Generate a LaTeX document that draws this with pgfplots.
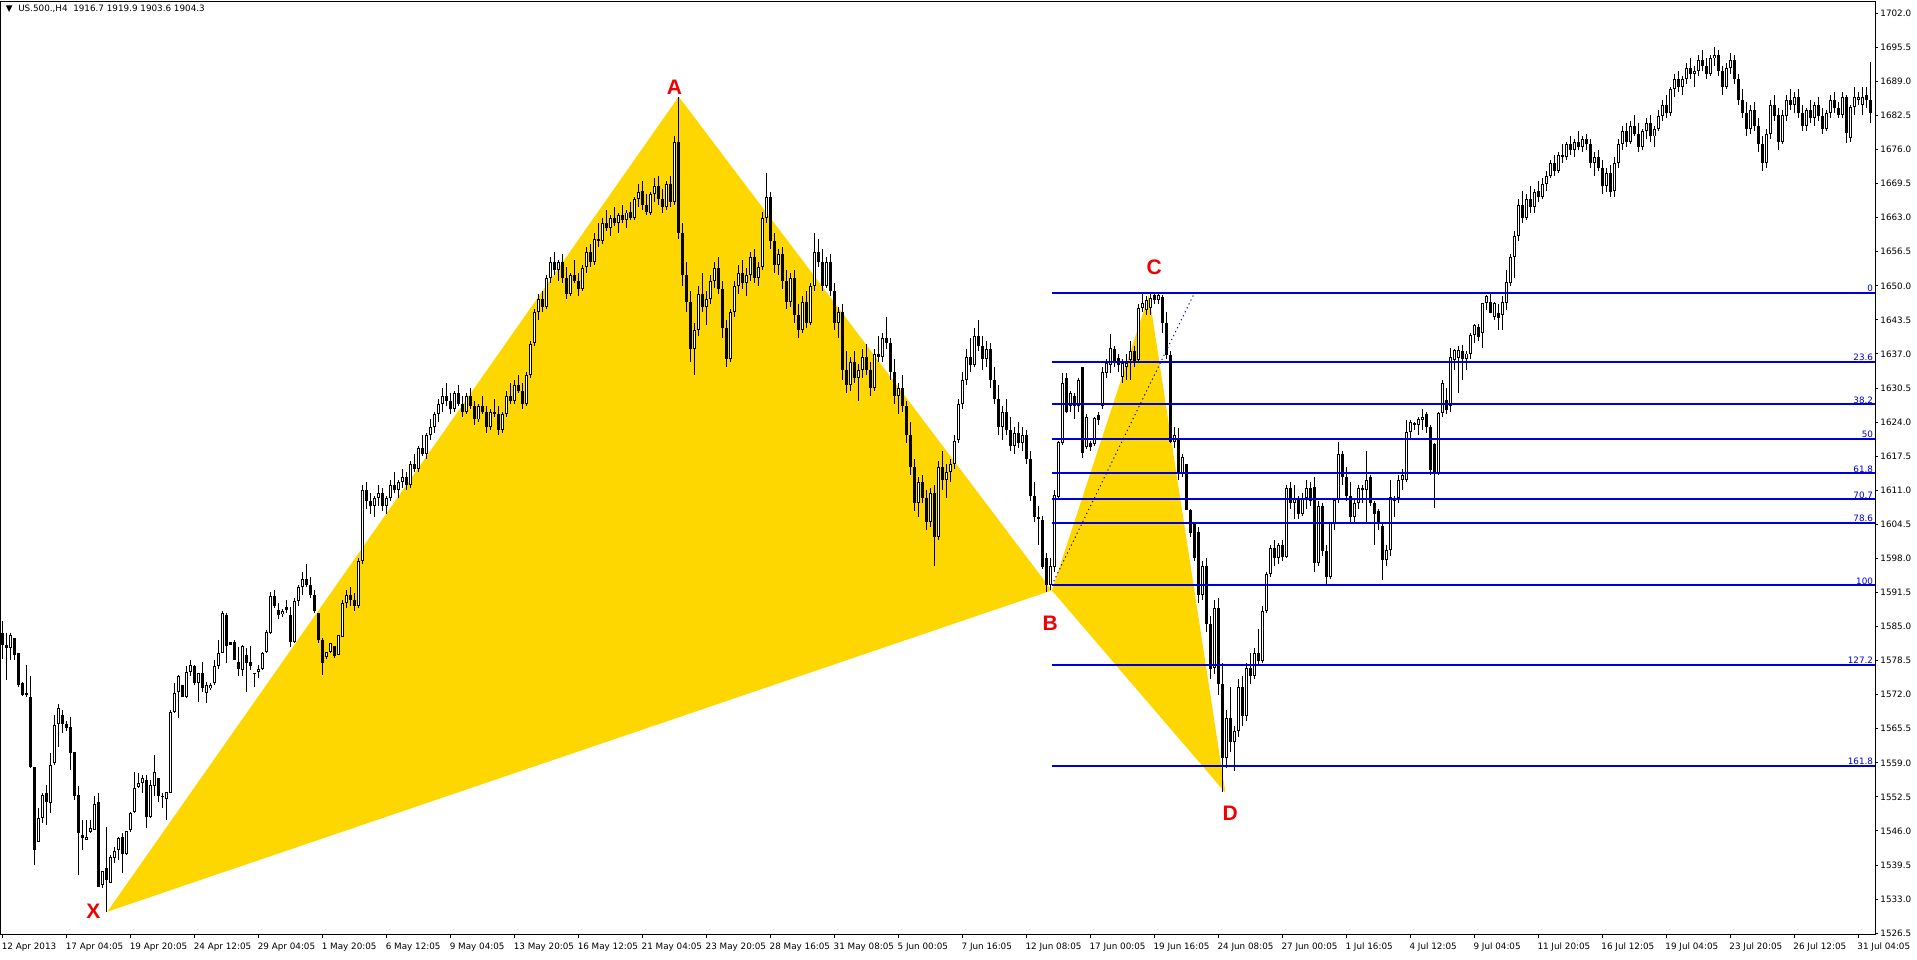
\documentclass[border=0pt]{standalone}
\usepackage{pgfplots}
\pgfplotsset{compat=1.18}
\usepackage{pgfplotstable}
\usepackage{fontspec}
\setmainfont{DejaVu Sans}
\newfontfamily\labfont{Liberation Sans}
\definecolor{gold}{RGB}{255,215,0}
\definecolor{fibblue}{RGB}{0,0,210}
\definecolor{mtred}{RGB}{240,0,0}
\newcommand{\tickfont}{\fontsize{4.4}{5}\selectfont}
\pgfplotstableread{
i o h l c
0 1583.7 1586.0 1578.9 1581.5
1 1581.5 1583.7 1574.8 1580.9
2 1580.9 1583.7 1578.6 1583.4
3 1582.8 1582.8 1578.6 1579.6
4 1579.9 1580.0 1573.5 1573.9
5 1574.2 1574.5 1571.8 1572.0
6 1572.3 1577.7 1571.6 1572.1
7 1571.6 1575.5 1558.0 1558.3
8 1558.3 1558.3 1539.5 1542.4
9 1544.0 1550.3 1544.0 1548.4
10 1548.4 1553.2 1547.5 1552.9
11 1553.2 1554.8 1547.2 1551.6
12 1551.3 1560.8 1549.4 1558.6
13 1558.9 1568.1 1558.5 1566.2
14 1566.5 1570.2 1562.1 1569.4
15 1568.1 1569.1 1564.6 1566.5
16 1566.5 1567.0 1565.0 1565.6
17 1565.9 1567.8 1557.7 1560.8
18 1561.1 1561.1 1551.9 1552.6
19 1552.9 1554.5 1537.6 1545.6
20 1545.2 1548.1 1542.4 1544.6
21 1544.3 1548.1 1544.3 1544.9
22 1545.9 1548.1 1545.6 1546.5
23 1546.2 1552.6 1546.2 1551.2
24 1551.6 1553.2 1535.4 1535.4
25 1535.7 1538.3 1535.1 1538.3
26 1538.9 1546.8 1530.6 1536.7
27 1536.0 1541.4 1536.0 1541.1
28 1540.8 1543.0 1539.8 1542.1
29 1542.4 1544.9 1540.5 1544.6
30 1544.9 1545.6 1537.9 1541.7
31 1541.7 1545.9 1541.4 1545.9
32 1546.2 1549.7 1545.9 1549.4
33 1549.7 1557.3 1549.4 1554.2
34 1554.4 1557.0 1554.2 1555.2
35 1555.1 1556.7 1553.2 1556.1
36 1555.7 1556.7 1546.5 1548.7
37 1548.7 1555.7 1548.4 1554.8
38 1554.5 1560.5 1552.6 1557.2
39 1556.1 1556.1 1551.6 1552.6
40 1552.7 1553.2 1550.3 1552.5
41 1552.2 1553.5 1548.1 1553.5
42 1553.2 1569.1 1553.2 1568.8
43 1568.8 1574.2 1568.5 1572.3
44 1572.6 1575.8 1567.5 1575.5
45 1573.9 1573.9 1571.6 1571.6
46 1571.6 1577.4 1571.3 1576.4
47 1576.4 1578.6 1575.5 1577.7
48 1577.4 1577.7 1573.9 1574.2
49 1574.2 1576.1 1570.7 1576.1
50 1576.1 1578.3 1572.6 1573.2
51 1572.3 1574.5 1570.4 1573.9
52 1573.2 1574.2 1572.9 1573.9
53 1574.2 1578.6 1573.9 1577.4
54 1577.4 1582.5 1577.0 1579.9
55 1579.9 1587.9 1579.9 1587.5
56 1587.2 1587.5 1578.0 1581.2
57 1582.0 1582.1 1581.5 1581.5
58 1582.1 1582.5 1578.6 1578.6
59 1578.3 1581.2 1575.5 1577.0
60 1576.7 1581.5 1575.5 1581.2
61 1579.6 1580.9 1572.6 1578.0
62 1578.3 1581.2 1576.7 1577.4
63 1576.1 1576.2 1573.5 1576.0
64 1576.4 1577.7 1575.1 1577.0
65 1576.9 1580.2 1576.7 1579.9
66 1580.2 1584.4 1579.9 1584.0
67 1583.7 1591.5 1583.5 1590.8
68 1590.8 1592.0 1588.5 1589.0
69 1588.2 1589.5 1586.5 1587.3
70 1587.3 1588.3 1586.8 1588.0
71 1588.8 1590.1 1587.5 1588.2
72 1587.2 1588.8 1581.2 1582.1
73 1582.1 1590.5 1581.8 1589.8
74 1589.8 1593.0 1589.0 1592.5
75 1592.5 1595.5 1591.0 1594.0
76 1594.0 1597.0 1592.5 1593.0
77 1593.0 1594.5 1590.5 1591.0
78 1591.0 1592.0 1587.5 1587.9
79 1587.5 1587.6 1581.8 1582.5
80 1582.5 1582.8 1575.8 1578.0
81 1579.2 1580.2 1578.9 1580.2
82 1580.2 1581.8 1579.9 1581.8
83 1581.2 1581.2 1579.0 1579.3
84 1579.6 1583.4 1579.6 1583.4
85 1583.1 1590.0 1583.1 1589.5
86 1589.5 1592.0 1588.5 1591.0
87 1591.0 1592.5 1589.0 1590.0
88 1590.0 1591.5 1588.0 1589.0
89 1589.0 1598.0 1588.5 1597.5
90 1597.5 1612.0 1597.0 1611.0
91 1611.0 1612.5 1607.5 1609.0
92 1609.0 1610.5 1606.5 1608.0
93 1608.0 1610.0 1606.0 1609.5
94 1609.5 1612.0 1608.0 1610.5
95 1610.5 1611.5 1607.0 1608.0
96 1608.0 1610.0 1606.5 1609.5
97 1609.5 1613.0 1609.0 1612.0
98 1612.0 1614.5 1610.5 1611.0
99 1611.0 1613.0 1609.5 1612.5
100 1612.5 1615.0 1611.5 1613.5
101 1613.5 1614.5 1611.0 1612.0
102 1612.0 1616.5 1611.5 1616.0
103 1616.0 1618.0 1614.5 1615.0
104 1615.0 1619.5 1614.5 1619.0
105 1619.0 1621.5 1617.5 1618.0
106 1618.0 1622.0 1617.0 1621.5
107 1621.5 1624.5 1620.5 1623.0
108 1623.0 1626.0 1622.0 1625.5
109 1625.5 1628.5 1624.0 1627.5
110 1627.5 1630.5 1626.0 1629.0
111 1629.0 1631.5 1627.0 1628.0
112 1628.0 1629.5 1625.5 1626.5
113 1626.5 1630.0 1626.0 1629.5
114 1629.5 1631.0 1627.0 1627.5
115 1627.5 1629.0 1625.0 1626.0
116 1626.0 1629.5 1625.5 1629.0
117 1629.0 1630.5 1626.5 1627.0
118 1627.0 1628.0 1623.5 1624.5
119 1624.5 1627.5 1624.0 1627.0
120 1627.0 1629.0 1625.5 1626.0
121 1626.0 1627.0 1622.0 1623.0
122 1623.0 1626.5 1622.5 1626.0
123 1626.0 1628.5 1625.0 1625.5
124 1625.5 1627.0 1621.5 1622.5
125 1622.5 1626.0 1622.0 1625.5
126 1625.5 1630.0 1625.0 1629.0
127 1629.0 1631.5 1627.5 1628.0
128 1628.0 1632.0 1627.5 1631.0
129 1631.0 1633.0 1629.5 1630.0
130 1630.0 1631.5 1626.5 1627.5
131 1627.5 1633.5 1627.0 1633.0
132 1633.0 1639.5 1632.5 1639.0
133 1639.0 1645.5 1638.5 1645.0
134 1645.0 1648.5 1643.5 1647.5
135 1647.5 1649.0 1645.0 1646.0
136 1646.0 1652.0 1645.5 1651.5
137 1651.5 1655.5 1650.5 1654.5
138 1654.5 1656.5 1652.0 1653.0
139 1653.0 1655.0 1651.0 1654.5
140 1654.5 1656.0 1650.5 1651.5
141 1651.5 1653.5 1647.5 1648.5
142 1648.5 1652.5 1648.0 1652.0
143 1652.0 1655.0 1650.5 1651.0
144 1651.0 1652.5 1648.0 1649.5
145 1649.5 1654.0 1649.0 1653.5
146 1653.5 1657.5 1652.5 1656.5
147 1656.5 1658.0 1653.5 1654.5
148 1654.5 1660.0 1654.0 1659.0
149 1659.0 1662.0 1657.5 1658.5
150 1658.5 1663.0 1658.0 1662.0
151 1662.0 1664.5 1660.5 1661.0
152 1661.0 1663.5 1659.5 1663.0
153 1663.0 1665.0 1661.5 1662.0
154 1662.0 1664.0 1660.0 1663.5
155 1663.5 1665.5 1662.0 1662.5
156 1662.5 1664.5 1661.0 1664.0
157 1664.0 1666.0 1662.5 1663.0
158 1663.0 1667.0 1662.5 1666.5
159 1666.5 1669.5 1665.0 1668.0
160 1668.0 1670.0 1664.5 1665.5
161 1665.5 1667.5 1663.5 1664.0
162 1664.0 1668.0 1663.5 1667.5
163 1667.5 1670.5 1666.0 1669.0
164 1669.0 1671.0 1665.5 1666.5
165 1666.5 1668.5 1664.0 1665.0
166 1665.0 1670.0 1664.5 1669.5
167 1669.5 1671.0 1665.0 1666.0
168 1666.0 1678.5 1665.5 1677.5
169 1677.5 1686.0 1659.0 1660.0
170 1660.0 1662.0 1650.0 1652.0
171 1652.0 1654.5 1645.0 1647.0
172 1647.0 1649.0 1635.5 1638.0
173 1638.0 1643.0 1633.0 1641.5
174 1641.5 1650.0 1640.5 1648.5
175 1648.5 1652.5 1645.0 1646.0
176 1646.0 1649.0 1642.5 1647.5
177 1647.5 1652.0 1646.5 1651.0
178 1651.0 1654.5 1649.5 1653.5
179 1653.5 1655.5 1648.5 1649.5
180 1649.5 1651.0 1640.0 1642.0
181 1642.0 1643.5 1634.5 1636.0
182 1636.0 1645.5 1635.5 1645.0
183 1645.0 1651.0 1644.0 1650.0
184 1650.0 1654.0 1648.5 1652.5
185 1652.5 1655.0 1649.5 1650.5
186 1650.5 1653.5 1648.0 1652.0
187 1652.0 1656.5 1651.0 1655.5
188 1655.5 1657.0 1650.5 1651.5
189 1651.5 1654.5 1650.0 1653.5
190 1653.5 1664.0 1653.0 1663.0
191 1663.0 1671.5 1662.0 1667.0
192 1667.0 1668.0 1657.0 1658.5
193 1658.5 1660.0 1652.5 1654.0
194 1654.0 1657.0 1652.0 1656.0
195 1656.0 1657.5 1649.5 1651.0
196 1651.0 1653.0 1645.5 1647.0
197 1647.0 1652.5 1646.0 1651.5
198 1651.5 1653.0 1643.0 1644.5
199 1644.5 1646.5 1640.0 1641.5
200 1641.5 1648.0 1641.0 1647.0
201 1647.0 1649.0 1642.0 1643.0
202 1643.0 1650.5 1642.5 1650.0
203 1650.0 1660.0 1649.0 1656.5
204 1656.5 1659.0 1653.5 1654.5
205 1654.5 1657.0 1649.0 1650.0
206 1650.0 1655.5 1649.5 1654.5
207 1654.5 1656.0 1648.0 1649.0
208 1649.0 1650.5 1641.5 1643.0
209 1643.0 1646.0 1640.0 1645.0
210 1645.0 1646.5 1632.0 1634.0
211 1634.0 1637.5 1629.5 1631.0
212 1631.0 1636.5 1630.0 1635.5
213 1635.5 1637.5 1631.5 1632.5
214 1632.5 1635.0 1628.0 1634.0
215 1634.0 1638.0 1632.5 1636.5
216 1636.5 1639.0 1633.0 1634.0
217 1634.0 1635.5 1629.0 1630.5
218 1630.5 1638.0 1630.0 1637.0
219 1637.0 1640.5 1635.5 1636.5
220 1636.5 1641.0 1635.5 1640.0
221 1640.0 1644.0 1638.0 1639.0
222 1639.0 1640.0 1632.0 1633.5
223 1633.5 1636.0 1627.5 1629.0
224 1629.0 1631.5 1625.5 1630.5
225 1630.5 1633.0 1626.0 1627.0
226 1627.0 1628.0 1620.0 1621.5
227 1621.5 1624.0 1614.0 1615.5
228 1615.5 1617.0 1607.0 1608.5
229 1608.5 1613.5 1606.0 1612.5
230 1612.5 1614.0 1608.5 1609.5
231 1609.5 1611.0 1603.5 1605.0
232 1605.0 1611.5 1604.0 1610.5
233 1610.5 1612.0 1596.5 1602.0
234 1602.0 1616.5 1601.5 1615.5
235 1615.5 1618.5 1611.0 1613.0
236 1613.0 1616.0 1609.5 1614.5
237 1614.5 1617.0 1612.5 1616.0
238 1616.0 1621.5 1615.0 1620.5
239 1620.5 1628.5 1620.0 1627.5
240 1627.5 1633.5 1626.5 1632.0
241 1632.0 1638.0 1631.0 1636.5
242 1636.5 1640.0 1633.5 1635.0
243 1635.0 1642.0 1634.5 1640.5
244 1640.5 1643.5 1637.5 1638.5
245 1638.5 1640.5 1634.0 1636.0
246 1636.0 1639.5 1634.5 1638.0
247 1638.0 1639.0 1630.5 1632.0
248 1632.0 1634.5 1627.5 1628.5
249 1628.5 1631.0 1621.5 1623.0
250 1623.0 1627.0 1620.5 1626.0
251 1626.0 1628.5 1621.5 1622.5
252 1622.5 1625.0 1618.5 1619.5
253 1619.5 1623.0 1618.0 1622.0
254 1622.0 1624.0 1619.0 1620.0
255 1620.0 1623.0 1618.5 1621.5
256 1621.5 1622.5 1616.0 1617.0
257 1617.0 1618.5 1609.0 1610.0
258 1610.0 1612.5 1605.0 1606.0
259 1606.0 1608.0 1600.5 1605.5
260 1605.3 1606.0 1596.0 1596.4
261 1598.0 1599.0 1591.5 1593.0
262 1593.0 1598.0 1592.0 1596.5
263 1596.4 1611.0 1595.5 1610.1
264 1609.8 1620.5 1609.5 1620.3
265 1620.0 1633.3 1619.6 1631.4
266 1632.4 1633.3 1625.8 1626.0
267 1627.0 1630.0 1626.0 1629.5
268 1628.9 1629.5 1624.5 1627.0
269 1627.0 1632.5 1626.0 1632.0
270 1634.6 1634.6 1617.1 1618.1
271 1619.3 1625.5 1618.8 1625.0
272 1620.0 1620.5 1618.5 1619.3
273 1619.9 1625.0 1619.5 1624.7
274 1625.4 1626.0 1623.5 1624.4
275 1627.0 1634.6 1626.5 1633.6
276 1633.3 1636.0 1632.5 1635.2
277 1634.9 1640.9 1633.3 1638.1
278 1638.0 1638.5 1634.5 1635.5
279 1636.2 1637.0 1633.5 1634.9
280 1632.7 1636.0 1631.5 1635.2
281 1634.6 1637.0 1632.0 1635.2
282 1635.9 1639.4 1632.0 1637.5
283 1637.5 1638.5 1634.5 1635.5
284 1635.9 1646.5 1635.5 1645.7
285 1645.7 1648.7 1645.0 1646.7
286 1645.4 1648.0 1644.5 1647.3
287 1645.7 1648.7 1644.5 1647.6
288 1648.3 1648.7 1646.5 1647.3
289 1647.3 1648.7 1646.5 1648.3
290 1647.9 1648.3 1641.0 1642.9
291 1642.9 1645.1 1636.0 1636.8
292 1636.8 1637.5 1620.0 1620.3
293 1620.3 1623.0 1619.0 1621.5
294 1620.6 1622.8 1613.0 1614.2
295 1614.2 1618.0 1613.5 1617.4
296 1616.1 1616.1 1607.2 1607.2
297 1607.2 1607.5 1602.0 1602.8
298 1604.7 1605.0 1597.5 1598.0
299 1603.0 1604.0 1589.5 1591.0
300 1591.0 1597.5 1590.0 1596.5
301 1596.5 1598.0 1584.0 1585.5
302 1585.5 1587.0 1575.0 1577.0
303 1577.0 1590.0 1576.0 1588.5
304 1588.5 1590.5 1572.0 1574.0
305 1574.0 1578.0 1553.5 1560.0
306 1560.0 1569.0 1558.0 1567.5
307 1567.5 1573.5 1561.0 1563.0
308 1563.0 1566.0 1557.5 1565.0
309 1565.0 1575.0 1564.0 1573.5
310 1573.5 1575.5 1566.0 1568.0
311 1568.0 1578.0 1567.0 1577.0
312 1577.0 1580.0 1574.0 1575.5
313 1575.5 1581.0 1575.0 1580.0
314 1580.0 1584.5 1577.5 1578.5
315 1578.5 1589.0 1578.0 1588.0
316 1588.0 1595.5 1587.5 1595.0
317 1595.0 1600.5 1594.5 1600.0
318 1600.0 1601.5 1596.5 1598.0
319 1598.0 1601.0 1597.0 1600.5
320 1600.5 1601.5 1597.5 1598.3
321 1598.3 1612.0 1598.0 1611.5
322 1611.5 1612.5 1607.5 1608.5
323 1608.5 1612.0 1605.5 1609.5
324 1609.5 1610.0 1605.5 1606.5
325 1606.5 1610.5 1606.0 1609.5
326 1609.5 1613.0 1607.5 1611.5
327 1611.5 1612.5 1608.0 1609.0
328 1611.7 1613.6 1595.5 1597.1
329 1597.1 1609.0 1596.5 1608.0
330 1608.0 1608.5 1598.5 1599.5
331 1599.5 1600.5 1593.2 1594.5
332 1594.5 1605.0 1594.0 1604.7
333 1604.7 1609.5 1603.5 1609.1
334 1609.1 1620.3 1608.5 1618.0
335 1618.0 1618.5 1612.0 1613.6
336 1613.6 1615.5 1609.0 1610.0
337 1610.0 1612.5 1604.5 1606.0
338 1606.0 1609.5 1605.0 1608.5
339 1608.5 1612.0 1607.5 1611.5
340 1611.5 1612.0 1608.5 1611.0
341 1611.0 1618.5 1604.5 1613.0
342 1613.5 1614.0 1608.0 1608.5
343 1608.5 1609.0 1600.5 1606.5
344 1607.0 1607.5 1603.5 1604.5
345 1604.1 1604.8 1593.9 1597.7
346 1597.7 1600.5 1596.5 1599.6
347 1599.6 1613.0 1598.5 1609.8
348 1609.0 1610.0 1606.0 1609.5
349 1609.5 1614.0 1608.5 1613.0
350 1613.0 1615.0 1611.0 1614.0
351 1613.0 1624.4 1612.5 1622.2
352 1622.2 1624.5 1621.0 1624.0
353 1623.8 1624.0 1622.5 1623.5
354 1623.5 1625.0 1621.5 1624.5
355 1624.5 1626.5 1622.5 1625.0
356 1625.5 1626.0 1622.0 1623.0
357 1623.0 1623.5 1614.0 1614.9
358 1619.9 1620.0 1607.6 1614.2
359 1614.2 1626.0 1614.0 1625.7
360 1625.7 1632.0 1625.0 1631.4
361 1628.2 1630.5 1625.5 1626.3
362 1627.0 1638.1 1626.0 1636.5
363 1635.9 1638.0 1634.0 1637.8
364 1636.2 1638.5 1629.5 1637.8
365 1637.5 1638.8 1632.0 1636.0
366 1636.0 1637.5 1634.0 1637.1
367 1637.1 1641.0 1636.0 1640.6
368 1640.6 1642.8 1639.0 1642.5
369 1642.2 1642.8 1639.5 1640.3
370 1641.0 1646.7 1638.1 1646.7
371 1646.7 1648.3 1645.4 1648.0
372 1647.0 1648.5 1644.8 1644.8
373 1644.1 1646.9 1643.5 1646.7
374 1644.8 1646.5 1641.5 1643.8
375 1644.4 1648.0 1641.5 1647.0
376 1646.7 1653.0 1645.4 1650.8
377 1650.5 1656.0 1650.0 1655.5
378 1655.5 1660.5 1651.5 1659.5
379 1659.5 1666.5 1658.5 1665.5
380 1665.5 1668.0 1662.0 1663.0
381 1663.0 1667.5 1662.5 1666.5
382 1666.5 1669.0 1664.0 1665.0
383 1665.0 1668.5 1664.0 1668.0
384 1668.0 1670.0 1666.0 1667.0
385 1667.0 1670.5 1666.5 1669.5
386 1669.5 1672.0 1668.0 1671.0
387 1671.0 1674.0 1670.5 1673.5
388 1673.5 1675.0 1671.0 1672.0
389 1672.0 1675.5 1671.5 1675.0
390 1675.0 1677.0 1673.5 1674.5
391 1674.5 1677.5 1674.0 1677.0
392 1677.0 1678.5 1675.0 1676.0
393 1676.0 1678.0 1674.5 1677.5
394 1677.5 1679.5 1676.0 1676.5
395 1676.5 1678.5 1675.5 1678.0
396 1678.0 1679.0 1676.0 1677.0
397 1677.0 1678.0 1672.5 1673.5
398 1673.5 1675.5 1671.0 1674.5
399 1674.5 1676.0 1672.0 1672.5
400 1672.5 1674.0 1667.5 1669.0
401 1669.0 1672.5 1668.0 1671.5
402 1671.5 1673.0 1667.0 1668.0
403 1668.0 1674.5 1667.0 1673.5
404 1673.5 1678.0 1672.5 1677.0
405 1677.0 1680.5 1676.0 1679.5
406 1679.5 1681.0 1676.5 1677.5
407 1677.5 1681.5 1677.0 1680.5
408 1680.5 1682.5 1678.5 1679.0
409 1679.0 1681.0 1675.5 1676.5
410 1676.5 1680.0 1676.0 1679.5
411 1679.5 1682.0 1678.0 1681.0
412 1681.0 1682.5 1677.5 1678.5
413 1678.5 1680.5 1676.5 1680.0
414 1680.0 1683.5 1679.5 1682.5
415 1682.5 1685.5 1681.5 1684.5
416 1684.5 1686.5 1682.0 1683.0
417 1683.0 1688.0 1682.5 1687.5
418 1687.5 1690.5 1686.0 1689.5
419 1689.5 1691.0 1687.0 1688.0
420 1688.0 1690.0 1686.5 1689.5
421 1689.5 1692.5 1688.5 1691.5
422 1691.5 1693.5 1689.5 1690.5
423 1690.5 1692.0 1688.0 1691.0
424 1691.0 1694.0 1690.0 1693.0
425 1693.0 1695.0 1691.0 1692.0
426 1692.0 1693.5 1689.5 1690.5
427 1690.5 1694.0 1690.0 1693.5
428 1693.5 1695.5 1692.0 1694.0
429 1694.0 1695.0 1690.0 1691.0
430 1691.0 1692.0 1686.5 1688.0
431 1688.0 1692.5 1687.5 1691.5
432 1691.5 1694.5 1690.5 1693.0
433 1693.0 1694.0 1688.5 1689.5
434 1689.5 1690.5 1684.5 1685.5
435 1685.5 1687.5 1682.0 1683.0
436 1683.0 1685.0 1678.5 1680.0
437 1680.0 1684.5 1679.0 1683.5
438 1683.5 1685.0 1679.5 1680.5
439 1680.5 1682.0 1675.5 1677.0
440 1677.0 1678.5 1672.0 1673.5
441 1673.5 1680.0 1672.5 1679.0
442 1679.0 1685.5 1678.0 1684.5
443 1684.5 1686.5 1681.5 1682.5
444 1682.5 1684.0 1676.0 1677.5
445 1677.5 1683.5 1677.0 1682.5
446 1682.5 1686.5 1681.5 1685.5
447 1685.5 1687.5 1683.5 1684.5
448 1684.5 1687.0 1683.0 1686.0
449 1686.0 1687.5 1682.0 1683.0
450 1683.0 1684.5 1679.5 1680.5
451 1680.5 1684.0 1679.5 1683.5
452 1683.5 1685.5 1681.0 1682.0
453 1682.0 1685.0 1680.5 1684.5
454 1684.5 1686.0 1681.5 1682.5
455 1682.5 1684.0 1679.0 1680.0
456 1680.0 1683.5 1679.5 1683.0
457 1683.0 1686.5 1682.0 1685.5
458 1685.5 1687.0 1683.0 1684.0
459 1684.0 1685.0 1682.0 1682.6
460 1682.6 1687.0 1682.0 1686.1
461 1686.0 1686.5 1677.2 1679.1
462 1678.2 1684.5 1677.5 1684.2
463 1684.2 1688.0 1682.6 1686.1
464 1685.5 1687.0 1684.5 1686.1
465 1684.5 1688.0 1682.6 1686.1
466 1686.5 1688.0 1684.0 1685.5
467 1685.5 1692.8 1681.0 1683.0
}\candles
\begin{document}
\begin{tikzpicture}
\path (0,0) rectangle (958.5pt,480pt);
\begin{axis}[
  at={(0pt,12.5pt)}, anchor=south west,
  scale only axis, width=937.5pt, height=466.5pt,
  xmin=-0.5, xmax=468.25, ymin=1526.2, ymax=1704.15,
  axis line style={black, line width=0.5pt},
  tick style={black, line width=0.5pt},
  tick align=outside, major tick length=1.5pt,
  xtick pos=left, ytick pos=right,
  yticklabel pos=right,
  xtick={0,16,...,464},
  xticklabels={12 Apr 2013, 17 Apr 04:05, 19 Apr 20:05, 24 Apr 12:05, 29 Apr 04:05, 1 May 20:05, 6 May 12:05, 9 May 04:05, 13 May 20:05, 16 May 12:05, 21 May 04:05, 23 May 20:05, 28 May 16:05, 31 May 08:05, 5 Jun 00:05, 7 Jun 16:05, 12 Jun 08:05, 17 Jun 00:05, 19 Jun 16:05, 24 Jun 08:05, 27 Jun 00:05, 1 Jul 16:05, 4 Jul 12:05, 9 Jul 04:05, 11 Jul 20:05, 16 Jul 12:05, 19 Jul 04:05, 23 Jul 20:05, 26 Jul 12:05, 31 Jul 04:05},
  x tick label style={anchor=north west, font=\tickfont, inner sep=0pt, xshift=-0.5pt, yshift=-2.5pt},
  ytick={1526.5,1533,...,1702.5},
  y tick label style={anchor=west, font=\tickfont, inner sep=0pt, xshift=1pt,
    /pgf/number format/.cd, fixed, fixed zerofill, precision=1, 1000 sep={}, assume math mode=true},
  clip=true,
]
% harmonic pattern
\addplot[fill=gold, draw=none] coordinates {(26.2,1530.6) (169.1,1686.1) (262.4,1591.9)} -- cycle;
\addplot[fill=gold, draw=none] coordinates {(262.4,1591.9) (286.7,1648.3) (305.8,1553.3)} -- cycle;
% wicks
\addplot[draw=none, mark=none, error bars/.cd, y dir=both, y explicit, error mark=none,
  error bar style={solid, draw=black, line width=0.5pt}]
  table[x=i, y expr={(\thisrow{h}+\thisrow{l})/2}, y error expr={(\thisrow{h}-\thisrow{l})/2}] {\candles};
% bear bodies
\addplot[draw=none, mark=none, restrict y to domain=1400:1800, error bars/.cd, y dir=both, y explicit, error mark=none,
  error bar style={solid, draw=black, line width=1.5pt}]
  table[x=i, y expr={(\thisrow{o}+\thisrow{c})/2-10000*(\thisrow{c}>\thisrow{o})}, y error expr={max(abs(\thisrow{o}-\thisrow{c})/2,0.1)}] {\candles};
% bull bodies outline
\addplot[draw=none, mark=none, restrict y to domain=1400:1800, error bars/.cd, y dir=both, y explicit, error mark=none,
  error bar style={solid, draw=black, line width=1.5pt}]
  table[x=i, y expr={(\thisrow{o}+\thisrow{c})/2-10000*(\thisrow{c}<=\thisrow{o})}, y error expr={max(abs(\thisrow{o}-\thisrow{c})/2,0.1)}] {\candles};
% bull bodies inner
\addplot[draw=none, mark=none, restrict y to domain=1400:1800, error bars/.cd, y dir=both, y explicit, error mark=none,
  error bar style={solid, draw=white, line width=0.5pt}]
  table[x=i, y expr={(\thisrow{o}+\thisrow{c})/2-10000*(\thisrow{c}<=\thisrow{o})}, y error expr={max(abs(\thisrow{o}-\thisrow{c})/2-0.19,0)}] {\candles};
% fibonacci
\addplot[fibblue, line width=0.5pt, dash pattern=on 0.6pt off 1.6pt] coordinates {(262.4,1592.9) (298.1,1648.7)};
\foreach \lv/\lab in {1648.7/0,1635.53/23.6,1627.38/38.2,1620.8/50,1614.22/61.8,1609.25/70.7,1604.84/78.6,1592.9/100,1577.72/127.2,1558.4/161.8}{
  \edef\temp{\noexpand\addplot[fibblue, line width=1pt] coordinates {(262.4,\lv) (468.25,\lv)};
  \noexpand\node[anchor=south east, inner sep=0.3pt, text=fibblue, font=\noexpand\tickfont] at (axis cs:468.0,\lv) {\lab};}
  \temp
}
% pattern labels
\node[text=mtred, font=\labfont\fontsize{10.5}{12}\selectfont\bfseries] at (axis cs:22.75,1530.75) {X};
\node[text=mtred, font=\labfont\fontsize{10.5}{12}\selectfont\bfseries] at (axis cs:168,1687.9) {A};
\node[text=mtred, font=\labfont\fontsize{10.5}{12}\selectfont\bfseries] at (axis cs:262,1585.7) {B};
\node[text=mtred, font=\labfont\fontsize{10.5}{12}\selectfont\bfseries] at (axis cs:288,1653.6) {C};
\node[text=mtred, font=\labfont\fontsize{10.5}{12}\selectfont\bfseries] at (axis cs:307,1549.4) {D};
\end{axis}
\node[anchor=west, inner sep=0pt, font=\tickfont] at (2.5pt,475.8pt) {▼\ \ US.500.,H4\ \ 1916.7 1919.9 1903.6 1904.3};
\end{tikzpicture}
\end{document}
